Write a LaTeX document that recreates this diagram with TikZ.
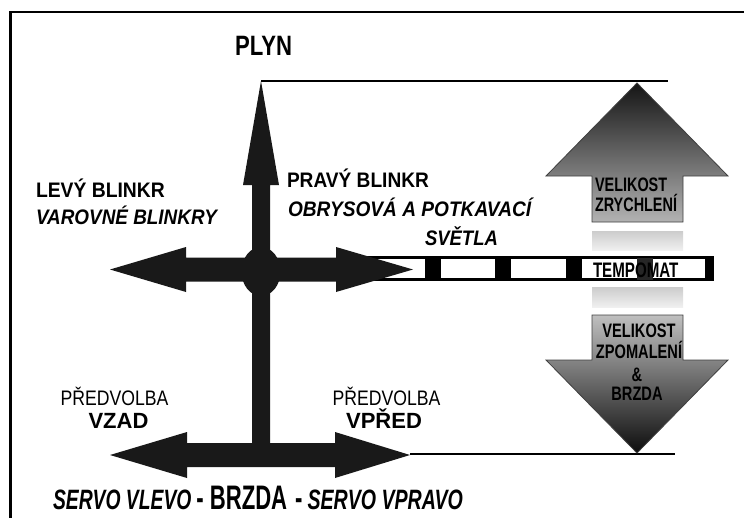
\documentclass[tikz,border=0pt]{standalone}
\usepackage{fontspec}
\setmainfont{Liberation Sans}
\usepackage{graphicx}
% horizontal squeeze of a piece of text
\newcommand{\sx}[2]{\scalebox{#1}[1]{#2}}
\newcommand{\fs}[1]{\fontsize{#1pt}{#1pt}\selectfont}
\tikzset{
  solidarrow/.style={fill=black!90, draw=none},
  accelarrow/.style={top color=black!92, bottom color=black!30, draw=black!75, line width=0.8pt},
  brakearrow/.style={top color=black!25, bottom color=black!95, draw=black!75, line width=0.8pt},
  haze/.style={top color=black!20, bottom color=black!6, draw=none},
  rulerline/.style={line width=2.6pt},
  framerule/.style={line width=2.4pt},
  lbl/.style={inner sep=0pt, outer sep=0pt},
}
\begin{document}
\begin{tikzpicture}[x=1pt,y=-1pt]
\useasboundingbox (0,0) rectangle (744,517);

% frame (top and left edges)
\coordinate (frameBL) at (10.3,520);
\coordinate (frameTL) at (10.3,12);
\coordinate (frameTR) at (746,12);
\draw[framerule] (frameBL) -- (frameTL) -- (frameTR);

% cruise-control bar
\draw[line width=3pt, fill=white] (360,257.5) rectangle (712.5,279.5);
\foreach \a/\b in {425/441, 495/511, 566/582, 705/714}
  \fill[black] (\a,257.5) rectangle (\b,279.5);
\fill[black!85] (637,257.5) rectangle (653,279.5);

% reference lines at the arrow tips
\coordinate (gasTip) at (261,81);
\coordinate (gasEnd) at (668,81);
\coordinate (revTip) at (410,454);
\coordinate (revEnd) at (675,454);
\draw[rulerline] (gasTip) -- (gasEnd);
\draw[rulerline] (revTip) -- (revEnd);

% black stick: up arrow and shaft
\fill[solidarrow] (261,81) -- (279,185) -- (270,185) -- (270,456) -- (252,456)
  -- (252,185) -- (243,185) -- cycle;
% middle double arrow
\fill[solidarrow] (110,269.5) -- (186,247) -- (186,257.5) -- (336,257.5) -- (336,247)
  -- (413,269.5) -- (336,292) -- (336,281.5) -- (186,281.5) -- (186,292) -- cycle;
\fill[solidarrow] (261,271.5) ellipse [x radius=19.5, y radius=24.5];
% bottom double arrow
\fill[solidarrow] (110,455) -- (187,432) -- (187,443) -- (335,443) -- (335,432)
  -- (410,455) -- (335,478) -- (335,467) -- (187,467) -- (187,478) -- cycle;

% acceleration and deceleration arrows
\shadedraw[accelarrow] (637,83) -- (728,176) -- (683,176) -- (683,222) -- (592,222)
  -- (592,176) -- (546,176) -- cycle;
\shadedraw[brakearrow] (592,315) -- (683,315) -- (683,360) -- (728,360) -- (637,453)
  -- (546,360) -- (592,360) -- cycle;
\shade[haze] (592,231) rectangle (683,250);
\shade[haze] (592,287) rectangle (683,307);

% labels
\node[lbl, anchor=base] (plyn) at (263.5,55.5) {\fs{28}\bfseries\sx{0.79}{PLYN}};
\node[lbl, anchor=base west] (levy) at (36,197) {\fs{21}\bfseries\sx{0.92}{LEVÝ BLINKR}};
\node[lbl, anchor=base west] (varovne) at (36,224) {\fs{21}\bfseries\itshape\sx{0.9}{VAROVNÉ BLINKRY}};
\node[lbl, anchor=base west] (pravy) at (287,187) {\fs{21}\bfseries\sx{0.91}{PRAVÝ BLINKR}};
\node[lbl, anchor=base west] (obrys) at (288,216) {\fs{21}\bfseries\itshape\sx{0.91}{OBRYSOVÁ A POTKAVACÍ}};
\node[lbl, anchor=base west] (svetla) at (425,245) {\fs{21}\bfseries\itshape\sx{0.88}{SVĚTLA}};

\node[lbl, anchor=base west] (tempomat) at (593,277) {\fs{21}\bfseries\sx{0.72}{TEMPOMAT}};

\node[lbl, anchor=base west] (velA) at (595,191) {\fs{19.5}\bfseries\sx{0.74}{VELIKOST}};
\node[lbl, anchor=base west] (zrych) at (595,211) {\fs{19.5}\bfseries\sx{0.74}{ZRYCHLENÍ}};

\node[lbl, anchor=base] (velB) at (639,337) {\fs{19.5}\bfseries\sx{0.75}{VELIKOST}};
\node[lbl, anchor=base] (zpom) at (639,358) {\fs{19.5}\bfseries\sx{0.75}{ZPOMALENÍ}};
\node[lbl, anchor=base] (amp) at (637,381) {\fs{19.5}\bfseries\sx{0.75}{\&}};
\node[lbl, anchor=base] (brzdaB) at (637,400) {\fs{19.5}\bfseries\sx{0.75}{BRZDA}};

\node[lbl, anchor=base] (predL) at (114.5,405) {\fs{21}\sx{0.84}{PŘEDVOLBA}};
\node[lbl, anchor=base] (vzad) at (118.5,428) {\fs{22}\bfseries VZAD};
\node[lbl, anchor=base] (predR) at (386.5,405) {\fs{21}\sx{0.84}{PŘEDVOLBA}};
\node[lbl, anchor=base] (vpred) at (384,428) {\fs{22}\bfseries VPŘED};

\node[lbl, anchor=base west] (servo) at (53,509) {%
  \fs{28}\bfseries\itshape\sx{0.69}{SERVO VLEVO}%
  \hspace{5pt}{\fs{34}\upshape\sx{0.65}{-}}\hspace{6pt}%
  {\fs{34}\upshape\sx{0.65}{BRZDA}}%
  \hspace{8pt}{\fs{34}\upshape\sx{0.65}{-}}\hspace{5pt}%
  \sx{0.70}{SERVO VPRAVO}};
\end{tikzpicture}
\end{document}
